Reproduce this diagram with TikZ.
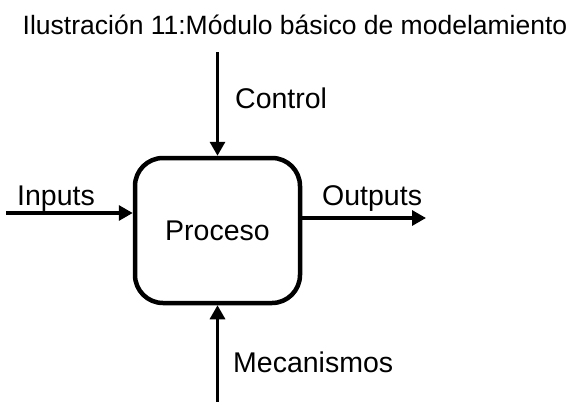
\documentclass[tikz,border=0pt]{standalone}
\usepackage{fontspec}
\setmainfont{Liberation Sans}
\usetikzlibrary{arrows.meta}
\begin{document}
\begin{tikzpicture}[x=1pt,y=-1pt,
  flow/.style={line width=3.2pt,-{Triangle[length=14pt,width=15pt]}},
  lbl/.style={inner sep=0pt,anchor=base west,font=\fontsize{28.5}{30}\selectfont},
  procbox/.style={draw,line width=4.5pt,rounded corners=28pt,
    minimum width=165pt,minimum height=145pt,inner sep=0pt,
    font=\fontsize{28.5}{30}\selectfont}]
\useasboundingbox (0,0) rectangle (574,402);
\fill[white] (0,0) rectangle (574,402);

% caption
\node[inner sep=0pt,anchor=base,font=\fontsize{26.5}{28}\selectfont] (title) at (295,34)
  {Ilustración 11:Módulo básico de modelamiento};

% process block
\node[procbox] (box) at (217.5,230.5) {Proceso};

% free ends of the four flows
\coordinate (inS) at (6,213);
\coordinate (outE) at (426,218);
\coordinate (ctlS) at (217.5,52);
\coordinate (mecS) at (217.5,402);

\draw[flow] (inS) -- (inS -| box.west);
\draw[flow] (outE -| box.east) -- (outE);
\draw[flow] (ctlS) -- (box.north);
\draw[flow] (mecS) -- (box.south);

% flow labels
\node[lbl] (inL) at (17,205) {Inputs};
\node[lbl] (outL) at (322,205) {Outputs};
\node[lbl] (ctlL) at (235,108) {Control};
\node[lbl] (mecL) at (233,372) {Mecanismos};
\end{tikzpicture}
\end{document}
